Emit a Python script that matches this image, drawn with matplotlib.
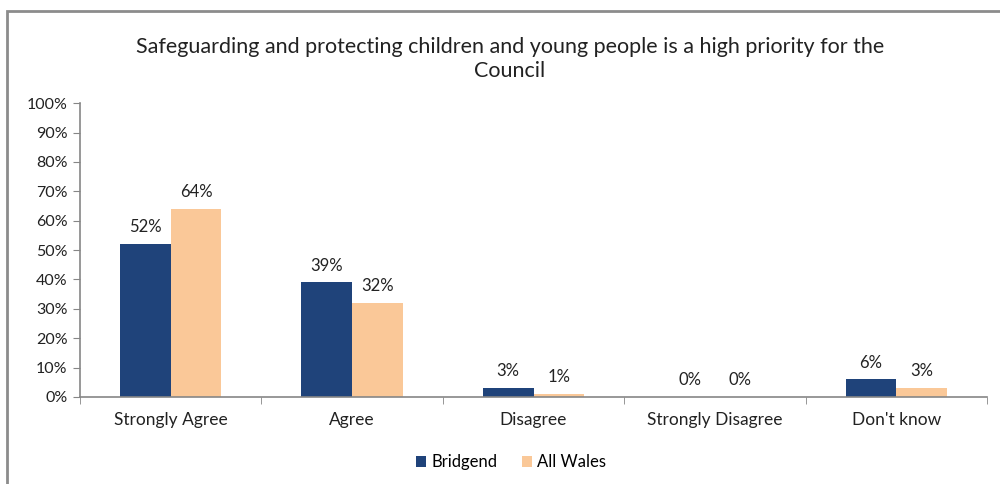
import matplotlib
matplotlib.use("Agg")
import matplotlib.pyplot as plt
from matplotlib.patches import Rectangle
import numpy as np

categories = ["Strongly Agree", "Agree", "Disagree", "Strongly Disagree", "Don't know"]
bridgend = [52, 39, 3, 0, 6]
all_wales = [64, 32, 1, 0, 3]
series_names = ["Bridgend", "All Wales"]
yticks = [0, 10, 20, 30, 40, 50, 60, 70, 80, 90, 100]
title = "Safeguarding and protecting children and young people is a high priority for the\nCouncil"

plt.rcParams['font.family'] = ['Lato', 'DejaVu Sans']

fig = plt.figure(figsize=(10, 4.84), dpi=100)
fig.patch.set_facecolor("white")
fig.patches.append(Rectangle((0.007, -0.1), 1.1, 1.078, transform=fig.transFigure,
                             fill=False, edgecolor="#8c8c8c", linewidth=2, zorder=0))

ax = fig.add_axes([0.08, 0.1798, 0.907, 0.607])
x = np.arange(len(categories))
w = 0.28
c1, c2 = "#1F437A", "#FAC898"
b1 = ax.bar(x - w / 2, bridgend, w, color=c1, label=series_names[0])
b2 = ax.bar(x + w / 2, all_wales, w, color=c2, label=series_names[1])
for bars, vals in ((b1, bridgend), (b2, all_wales)):
    for r, v in zip(bars, vals):
        ax.text(r.get_x() + r.get_width() / 2, v + 3, f"{v}%", ha="center", va="bottom",
                fontsize=12, color="#222222")

ax.set_xlim(-0.5, len(categories) - 0.5)
ax.set_ylim(0, 100)
ax.set_yticks(yticks)
ax.set_yticklabels([f"{t}%" for t in yticks], fontsize=11.5, color="#222222")
ax.set_xticks(x)
ax.set_xticklabels(categories, fontsize=12.5, color="#222222")
ax.set_xticks(np.arange(len(categories) + 1) - 0.5, minor=True)
ax.tick_params(axis="x", which="major", length=0, pad=11)
ax.tick_params(axis="x", which="minor", length=5, color="#868686", direction="out")
ax.tick_params(axis="y", length=5, color="#868686", direction="out", pad=4)
for s in ("top", "right"):
    ax.spines[s].set_visible(False)
for s in ("left", "bottom"):
    ax.spines[s].set_color("#868686")
    ax.spines[s].set_linewidth(1.2)

fig.text(0.51, 0.878, title, ha="center", va="center", fontsize=15.5, color="#222222",
         linespacing=1.3)

fig.legend(handles=[b1, b2], labels=series_names, loc="center", bbox_to_anchor=(0.511, 0.045),
           ncol=2, frameon=False, fontsize=12, handlelength=0.6, handleheight=0.6,
           handletextpad=0.3, columnspacing=1.5)

fig.savefig("out.png", dpi=100)
